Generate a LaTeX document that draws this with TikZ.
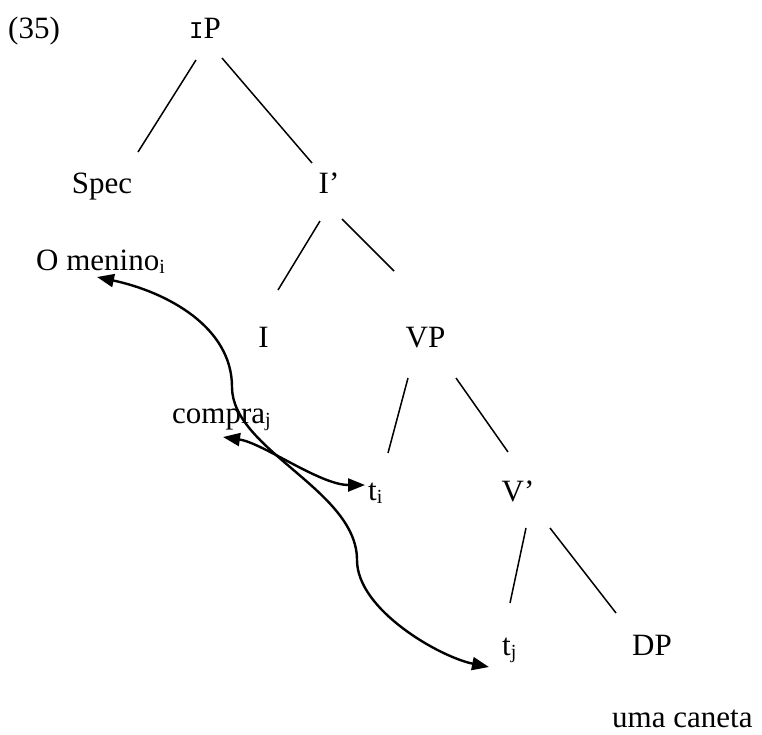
\documentclass[tikz,border=0pt]{standalone}
\usepackage{fontspec}
\setmainfont{Liberation Serif}
\newfontfamily\catfont{Liberation Mono}
\usetikzlibrary{arrows.meta}
\newcommand{\lowidx}[1]{\raisebox{-3pt}{\fontsize{20}{20}\selectfont #1}}

\begin{document}
\begin{tikzpicture}[x=1pt,y=-1pt,
	lbl/.style={anchor=base,inner sep=0pt,font=\fontsize{31}{36}\selectfont},
	lblw/.style={lbl,anchor=base west},
	branch/.style={line width=1.5pt},
	move/.style={line width=2.4pt,{Triangle[length=17pt,width=13pt]}-{Triangle[length=17pt,width=13pt]}}]

	\useasboundingbox (0,0) rectangle (762,734);

	\node 	(num)		at	(8,38) 		[lblw]{(35)};
	\node 	(ip)		at	(205,38) 	[lbl]{{\catfont\fontsize{24}{26}\selectfont I}P};

	\node 	(spec)		at	(102,193) 	[lbl]{Spec};
	\node 	(ibar)		at	(329,193) 	[lbl]{I’};

	\node 	(omenino)	at	(36,270) 	[lblw]{O menino\lowidx{i}};

	\node 	(i)			at	(263.5,347) [lbl]{I};
	\node 	(vp)		at	(425.5,347) [lbl]{VP};

	\node 	(compra)	at	(172,423) 	[lblw]{compra\lowidx{j}};

	\node 	(ti)		at	(368,500) 	[lblw]{t\lowidx{i}};
	\node 	(vbar)		at	(518,501) 	[lbl]{V’};

	\node 	(tj)		at	(502,655) 	[lblw]{t\lowidx{j}};
	\node 	(dp)		at	(652,655) 	[lbl]{DP};

	\node 	(caneta)	at	(612,727) 	[lblw]{uma caneta};

	\draw[branch]	([shift={(-9,22)}]ip.base)		--	([shift={(36,-41)}]spec.base);
	\draw[branch]	([shift={(17,20)}]ip.base)		--	([shift={(-17,-30)}]ibar.base);
	\draw[branch]	([shift={(-9,28)}]ibar.base)	--	([shift={(14.5,-57)}]i.base);
	\draw[branch]	([shift={(13,26)}]ibar.base)	--	([shift={(-31.5,-76)}]vp.base);
	\draw[branch]	([shift={(-17.5,31)}]vp.base)	--	([shift={(20,-47)}]ti.base west);
	\draw[branch]	([shift={(30.5,31)}]vp.base)	--	([shift={(-10,-49)}]vbar.base);
	\draw[branch]	([shift={(8,27)}]vbar.base)		--	([shift={(8,-52)}]tj.base west);
	\draw[branch]	([shift={(32,27)}]vbar.base)	--	([shift={(-36,-42)}]dp.base);

	\draw[move]	([shift={(61,7)}]omenino.base west)
		.. controls (167,292) and (232,327) .. (232,387)
		.. controls (232,450) and (357,490) .. (357,560)
		.. controls (357,610) and (440,657) .. ([shift={(-13,12)}]tj.base west);
	\draw[move]	([shift={(51,14)}]compra.base west)
		.. controls (263,443) and (320,485) .. ([shift={(-3,-15)}]ti.base west);

\end{tikzpicture}
\end{document}
